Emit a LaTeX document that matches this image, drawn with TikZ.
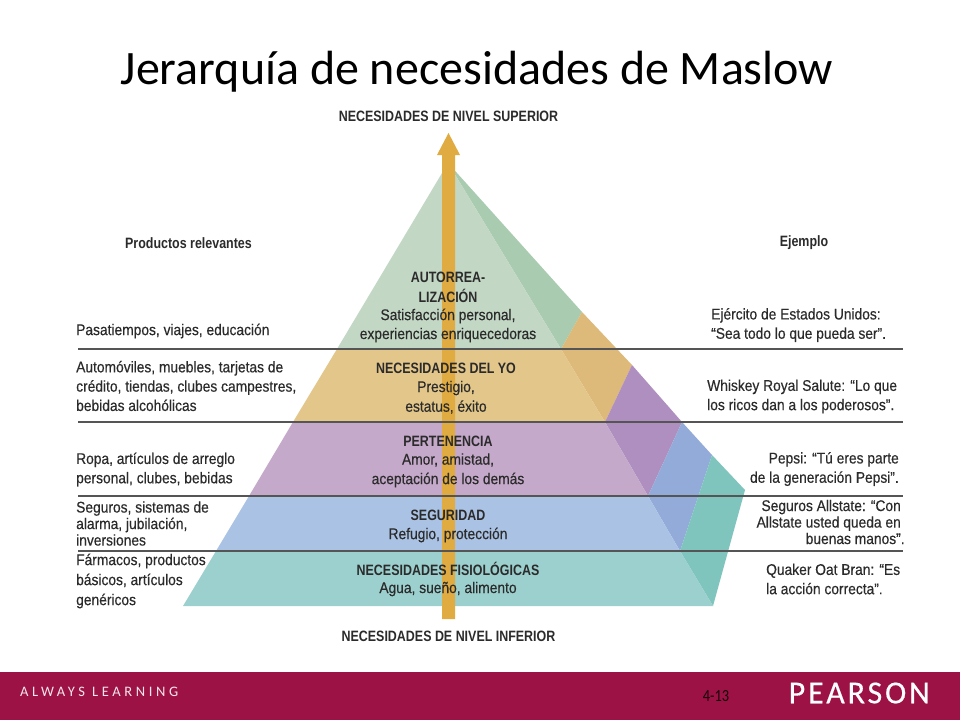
\documentclass[tikz,border=0pt]{standalone}
\usepackage{fontspec}
\setmainfont{Liberation Sans}
\newfontfamily\titlefont{Carlito}
\newfontfamily\narrowfont[FakeStretch=0.89,FakeBold=0.35]{Liberation Sans}
\newfontfamily\narrowbold[FakeStretch=0.83]{Liberation Sans Bold}
\newfontfamily\footfont[LetterSpace=25]{Carlito}
\newfontfamily\pagefont[FakeStretch=0.85]{Carlito}
\newfontfamily\brandfont[LetterSpace=9,FakeBold=0.4]{Carlito}
\definecolor{textdark}{HTML}{2B2B2B}
\definecolor{ruleg}{HTML}{555555}
\definecolor{grF}{HTML}{C3D7C5}\definecolor{grB}{HTML}{A9CBB0}
\definecolor{yeF}{HTML}{E3C68A}\definecolor{yeB}{HTML}{DDB97A}
\definecolor{puF}{HTML}{C5A9CB}\definecolor{puB}{HTML}{AE8FBF}
\definecolor{blF}{HTML}{AAC3E5}\definecolor{blB}{HTML}{93ABD8}
\definecolor{teF}{HTML}{9BD0CE}\definecolor{teB}{HTML}{7FC5BD}
\definecolor{arrowc}{HTML}{E0AC42}
\definecolor{barc}{HTML}{9D1244}
\tikzset{x=1pt,y=-1pt,
 lab/.style={inner sep=0,anchor=west,align=left,text=textdark,font=\narrowfont\fontsize{15.5}{19.3}\selectfont},
 labtight/.style={lab,font=\narrowfont\fontsize{15.5}{16.5}\selectfont},
 labright/.style={lab,anchor=east,align=right},
 mid/.style={inner sep=0,align=center,anchor=center,font=\narrowfont\fontsize{15.5}{19.3}\selectfont,text=textdark},
 hd/.style={inner sep=0,align=center,anchor=center,font=\narrowbold\fontsize{15}{19}\selectfont,text=textdark},
 sep/.style={ruleg,line width=1.2pt},
}
\begin{document}
\begin{tikzpicture}
\useasboundingbox (0,0) rectangle (960,720);
\fill[white] (0,0) rectangle (960,720);
\fill[barc] (0,672) rectangle (960,720);
% back faces
\fill[grB] (448,163) -- (582,312) -- (561,349) -- cycle;
\fill[yeB] (582,312) -- (632,365) -- (605,422) -- (561,349) -- cycle;
\fill[puB] (632,365) -- (682,422) -- (648,496) -- (605,422) -- cycle;
\fill[blB] (682,422) -- (712,455) -- (680,551) -- (648,496) -- cycle;
\fill[teB] (712,455) -- (745,490) -- (713,606) -- (680,551) -- cycle;
% front faces
\fill[grF] (448,163) -- (561,349) -- (337,349) -- cycle;
\fill[yeF] (337,349) -- (561,349) -- (605,422) -- (293,422) -- cycle;
\fill[puF] (293,422) -- (605,422) -- (648,496) -- (249,496) -- cycle;
\fill[blF] (249,496) -- (648,496) -- (680,551) -- (216,551) -- cycle;
\fill[teF] (216,551) -- (680,551) -- (713,606) -- (183,606) -- cycle;
% arrow
\fill[arrowc] (442,619) -- (442,155) -- (437,155) -- (448.5,133) -- (460,155) -- (455,155) -- (455,619) -- cycle;
% rules
\draw[sep] (78,349) -- (903,349);
\draw[sep] (78,422) -- (903,422);
\draw[sep] (78,496) -- (903,496);
\draw[sep] (78,551) -- (903,551);
% title
\node[inner sep=0,font=\titlefont\fontsize{48}{50}\selectfont,text=black] (title) at (477,72) {Jerarquía de necesidades de Maslow};
\node[hd] (sup) at (448.5,116) {NECESIDADES DE NIVEL SUPERIOR};
\node[hd] (inf) at (448.5,636) {NECESIDADES DE NIVEL INFERIOR};
\node[hd] (prod) at (188.5,243) {Productos relevantes};
\node[hd] (ej) at (804,243) {Ejemplo};
% centre
\node[hd] (a1) at (448,277) {AUTORREA-};
\node[hd] (a2) at (448,296) {LIZACIÓN};
\node[mid] (a3) at (448,316) {Satisfacción personal,};
\node[mid] (a4) at (448,335) {experiencias enriquecedoras};
\node[hd] (b1) at (446,368) {NECESIDADES DEL YO};
\node[mid] (b2) at (446,388) {Prestigio,};
\node[mid] (b3) at (446,407) {estatus, éxito};
\node[hd] (c1) at (448,441) {PERTENENCIA};
\node[mid] (c2) at (448,460) {Amor, amistad,};
\node[mid] (c3) at (448,480) {aceptación de los demás};
\node[hd] (d1) at (448,515) {SEGURIDAD};
\node[mid] (d2) at (448,535) {Refugio, protección};
\node[hd] (e1) at (448,569) {NECESIDADES FISIOLÓGICAS};
\node[mid] (e2) at (448,589) {Agua, sueño, alimento};
% left
\node[lab] (l1) at (76,331) {Pasatiempos, viajes, educación};
\node[lab] (l2) at (76,386) {Automóviles, muebles, tarjetas de\\crédito, tiendas, clubes campestres,\\bebidas alcohólicas};
\node[lab] (l3) at (76,469.5) {Ropa, artículos de arreglo\\personal, clubes, bebidas};
\node[labtight] (l4) at (76,523.5) {Seguros, sistemas de\\alarma, jubilación,\\inversiones};
\node[lab,font=\narrowfont\fontsize{15.5}{20}\selectfont] (l5) at (76,581) {Fármacos, productos\\básicos, artículos\\genéricos};
% right
\node[lab] (r1) at (711,325) {Ejército de Estados Unidos:\\“Sea todo lo que pueda ser”.};
\node[lab] (r2) at (707,396.5) {Whiskey Royal Salute: “Lo que\\los ricos dan a los poderosos”.};
\node[labright] (r3) at (899,469) {Pepsi: “Tú eres parte\\de la generación Pepsi”.};
\node[labright,font=\narrowfont\fontsize{15.5}{16.5}\selectfont] (r4) at (901,522) {Seguros Allstate: “Con\\Allstate usted queda en\\buenas manos”\rlap{.}};
\node[lab] (r5) at (766,579) {Quaker Oat Bran: “Es\\la acción correcta”.};
% footer
\node[inner sep=0,anchor=west,font=\footfont\fontsize{14.5}{15}\selectfont,text=white!90!barc] (al) at (20,692) {ALWAYS LEARNING};
\node[inner sep=0,font=\pagefont\fontsize{17}{18}\selectfont,text=black!85!barc] (pg) at (716,696) {4-13};
\node[inner sep=0,anchor=east,font=\brandfont\fontsize{32}{33}\selectfont,text=white] (pe) at (930,693) {PEARSON};
\end{tikzpicture}
\end{document}
